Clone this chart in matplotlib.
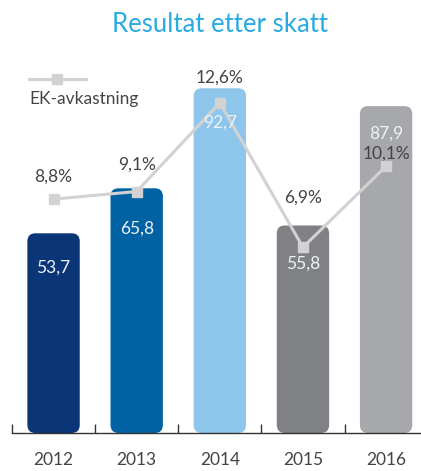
import matplotlib
matplotlib.use("Agg")
import matplotlib.pyplot as plt
from matplotlib.patches import FancyBboxPatch
from matplotlib.lines import Line2D

# Data
years = ["2012", "2013", "2014", "2015", "2016"]
result = [53.7, 65.8, 92.7, 55.8, 87.9]          # Resultat etter skatt
ek_return = [8.8, 9.1, 12.6, 6.9, 10.1]          # EK-avkastning, %
result_labels = ["53,7", "65,8", "92,7", "55,8", "87,9"]
return_labels = ["8,8%", "9,1%", "12,6%", "6,9%", "10,1%"]

# Styling
bar_colors = ["#0a3677", "#0062a3", "#8ec5ea", "#808185", "#a7a8ac"]
line_color = "#d2d2d2"
title_color = "#29aae1"
text_dark = "#444444"
pct_offsets_px = [22, 27, 25, 50, 13]
val_offsets_px = [-34, -40, -34, -38, -28]

plt.rcParams["font.family"] = ["Lato", "DejaVu Sans"]

W, H = 421, 471
fig = plt.figure(figsize=(W / 100, H / 100), dpi=100)
ax = fig.add_axes([12 / W, (H - 433) / H, 409 / W, 373 / H])
ax2 = ax.twinx()

x = list(range(len(years)))
bars = ax.bar(x, result, width=0.63, color="none", edgecolor="none")

ax.set_xlim(-0.5, 4.42)
ax.set_ylim(0, 100.3)
ax2.set_ylim(-0.43, 14.29)

# Rounded bars built from the bar geometry
px_per_x = 409 / (4.42 + 0.5)
px_per_y = 373 / 100.3
radius_px = 8
rx = radius_px / px_per_x
aspect = (radius_px / px_per_y) / rx
for rect, c in zip(bars, bar_colors):
    bx, by = rect.get_x(), rect.get_y()
    bw, bh = rect.get_width(), rect.get_height()
    patch = FancyBboxPatch((bx, by), bw, bh,
                           boxstyle=f"round,pad=0,rounding_size={rx}",
                           mutation_aspect=aspect, facecolor=c,
                           edgecolor="none", zorder=2)
    ax.add_patch(patch)

# Return line on secondary axis
ax2.plot(x, ek_return, color=line_color, lw=2.2, marker="s", ms=7,
         mfc=line_color, mec=line_color, zorder=5)
for xi, v, lab, off in zip(x, ek_return, return_labels, pct_offsets_px):
    ax2.annotate(lab, (xi, v), xytext=(0, off), textcoords="offset pixels",
                 ha="center", va="center", fontsize=12.5, color=text_dark)

# Bar values, drawn above the line
for xi, v, lab, off in zip(x, result, result_labels, val_offsets_px):
    ax2.annotate(lab, (xi, v), xycoords=ax.transData, xytext=(0, off),
                 textcoords="offset pixels", ha="center", va="center",
                 fontsize=12.5, color="#eef2f8", zorder=8)

ax.set_zorder(1)
ax2.set_zorder(2)
ax2.patch.set_visible(False)

# Axes styling
for a in (ax, ax2):
    for s in ("top", "right", "left"):
        a.spines[s].set_visible(False)
ax2.spines["bottom"].set_visible(False)
ax.spines["bottom"].set_color("#333333")
ax.spines["bottom"].set_linewidth(1.0)
ax.set_yticks([])
ax2.set_yticks([])
ax.set_xticks(x)
ax.set_xticklabels(years, fontsize=12.5, color=text_dark)
ax.tick_params(axis="x", which="major", length=0, pad=14)
ax.set_xticks([-0.5, 0.5, 1.5, 2.5, 3.5], minor=True)
ax.tick_params(axis="x", which="minor", direction="in", length=6.5,
               width=1.0, color="#333333")

# Title
fig.text(220 / W, 1 - 25 / H, "Resultat etter skatt", ha="center", va="center",
         fontsize=18.5, color=title_color)

# Legend
fig.add_artist(Line2D([29 / W, 86 / W], [1 - 79 / H, 1 - 79 / H],
                      transform=fig.transFigure, color=line_color, lw=2.2))
fig.add_artist(Line2D([57 / W], [1 - 79 / H], transform=fig.transFigure,
                      marker="s", ms=7, color=line_color, lw=0))
fig.text(29 / W, 1 - 99 / H, "EK-avkastning", ha="left", va="center",
         fontsize=12.5, color=text_dark)

fig.savefig("out.png", dpi=100)
